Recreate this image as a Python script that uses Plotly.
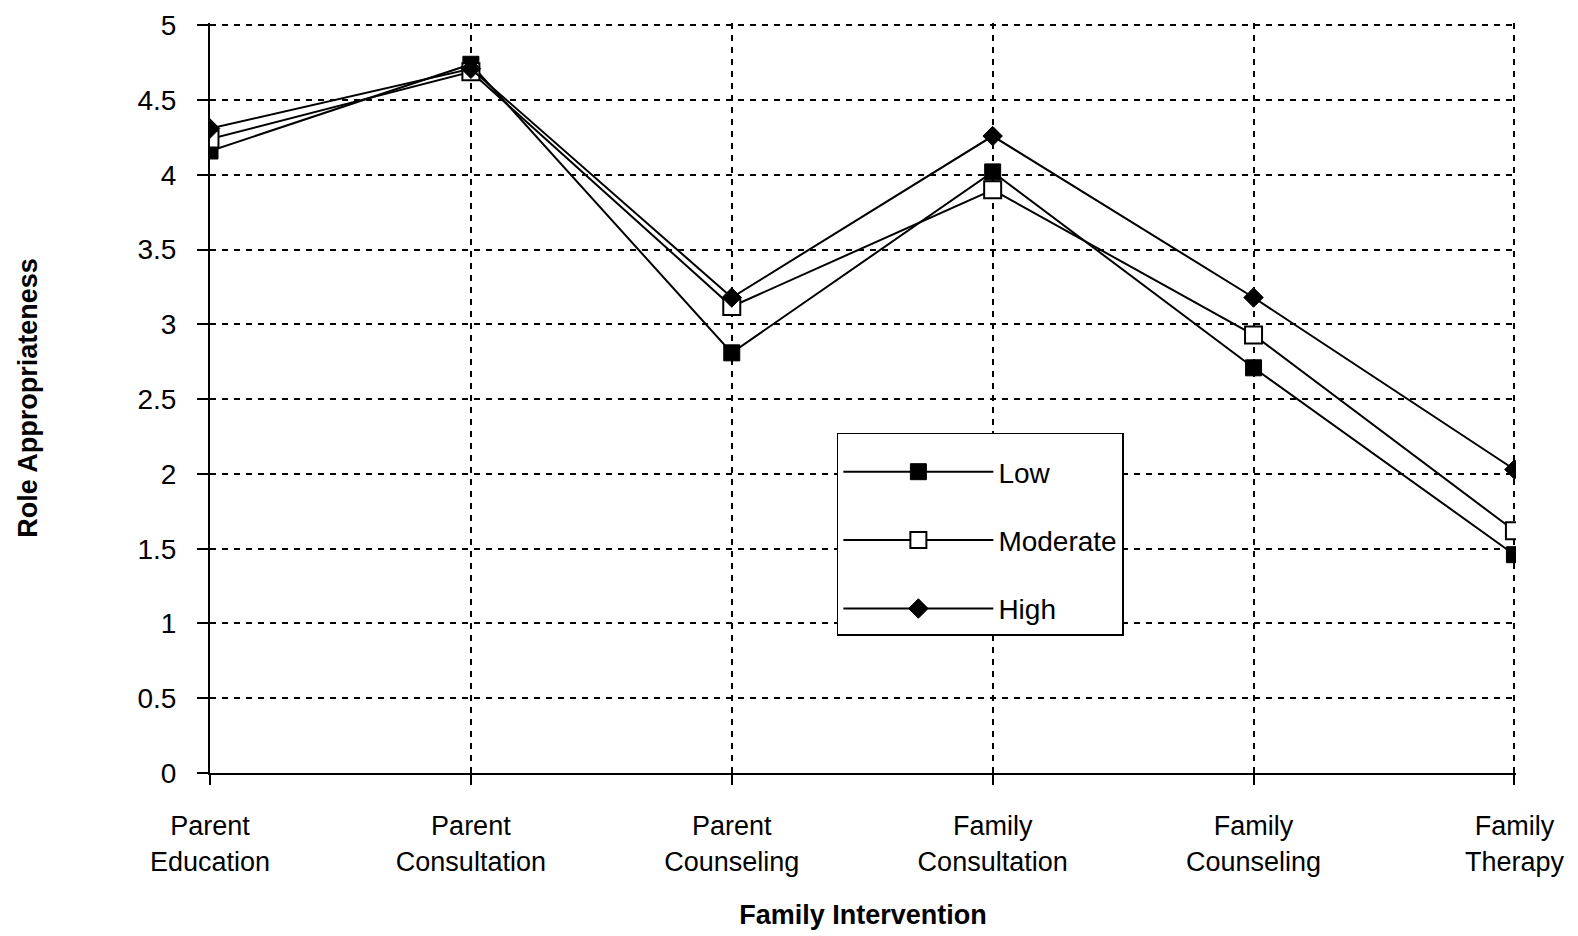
import plotly.graph_objects as go

categories = ["Parent<br>Education", "Parent<br>Consultation", "Parent<br>Counseling",
              "Family<br>Consultation", "Family<br>Counseling", "Family<br>Therapy"]
low = [4.16, 4.74, 2.81, 4.02, 2.71, 1.46]
moderate = [4.24, 4.69, 3.12, 3.90, 2.93, 1.62]
high = [4.31, 4.71, 3.18, 4.26, 3.18, 2.03]
y_ticks = [0, 0.5, 1, 1.5, 2, 2.5, 3, 3.5, 4, 4.5, 5]
y_tick_text = ["0", "0.5", "1", "1.5", "2", "2.5", "3", "3.5", "4", "4.5", "5"]

FONT = "Liberation Sans, Arial, sans-serif"

fig = go.Figure()
fig.add_trace(go.Scatter(
    x=categories, y=low, name="Low", mode="lines+markers", legendgroup="a",
    line=dict(color="black", width=2),
    marker=dict(symbol="square", size=16, color="black", line=dict(color="black", width=1))))
fig.add_trace(go.Scatter(
    x=categories, y=moderate, name="Moderate", mode="lines+markers", legendgroup="b",
    line=dict(color="black", width=2),
    marker=dict(symbol="square", size=17, color="white", line=dict(color="black", width=2))))
fig.add_trace(go.Scatter(
    x=categories, y=high, name="High", mode="lines+markers", legendgroup="c",
    line=dict(color="black", width=2),
    marker=dict(symbol="diamond", size=15, color="black", line=dict(color="black", width=1))))

fig.update_layout(
    width=1578, height=936,
    paper_bgcolor="white", plot_bgcolor="white",
    margin=dict(l=202, r=70, t=15, b=171, autoexpand=False),
    font=dict(family=FONT, color="black", size=27),
    legend=dict(
        x=0.48, y=0.454, xanchor="left", yanchor="top",
        bgcolor="white", bordercolor="black", borderwidth=1.5,
        font=dict(size=28, family=FONT, color="black"),
        title=dict(text=" ", font=dict(size=10)),
        tracegroupgap=29, itemwidth=150,
    ),
    xaxis=dict(
        type="category", range=[0, 5.006], automargin=False,
        showline=True, linecolor="black", linewidth=2,
        ticks="outside", ticklen=10, tickcolor="black", tickwidth=2,
        ticklabelstandoff=18, ticklabeloverflow="allow",
        showgrid=True, gridcolor="black", gridwidth=1.5, griddash="6px,6px",
        tickfont=dict(size=27, family=FONT, color="black"),
        title=dict(text="<b>Family Intervention</b>", font=dict(size=27, family=FONT, color="black"),
                   standoff=30),
        zeroline=False,
    ),
    yaxis=dict(
        range=[0, 5.016], tickvals=y_ticks, ticktext=y_tick_text, automargin=False,
        showline=True, linecolor="black", linewidth=2,
        ticks="outside", ticklen=11, tickcolor="black", tickwidth=2,
        ticklabelstandoff=15, ticklabeloverflow="allow",
        showgrid=True, gridcolor="black", gridwidth=1.5, griddash="6px,6px",
        tickfont=dict(size=28, family=FONT, color="black"),
        title=dict(text="<b>Role Appropriateness</b>", font=dict(size=27, family=FONT, color="black"),
                   standoff=92),
        zeroline=False,
    ),
)

fig.write_html("out.html")
